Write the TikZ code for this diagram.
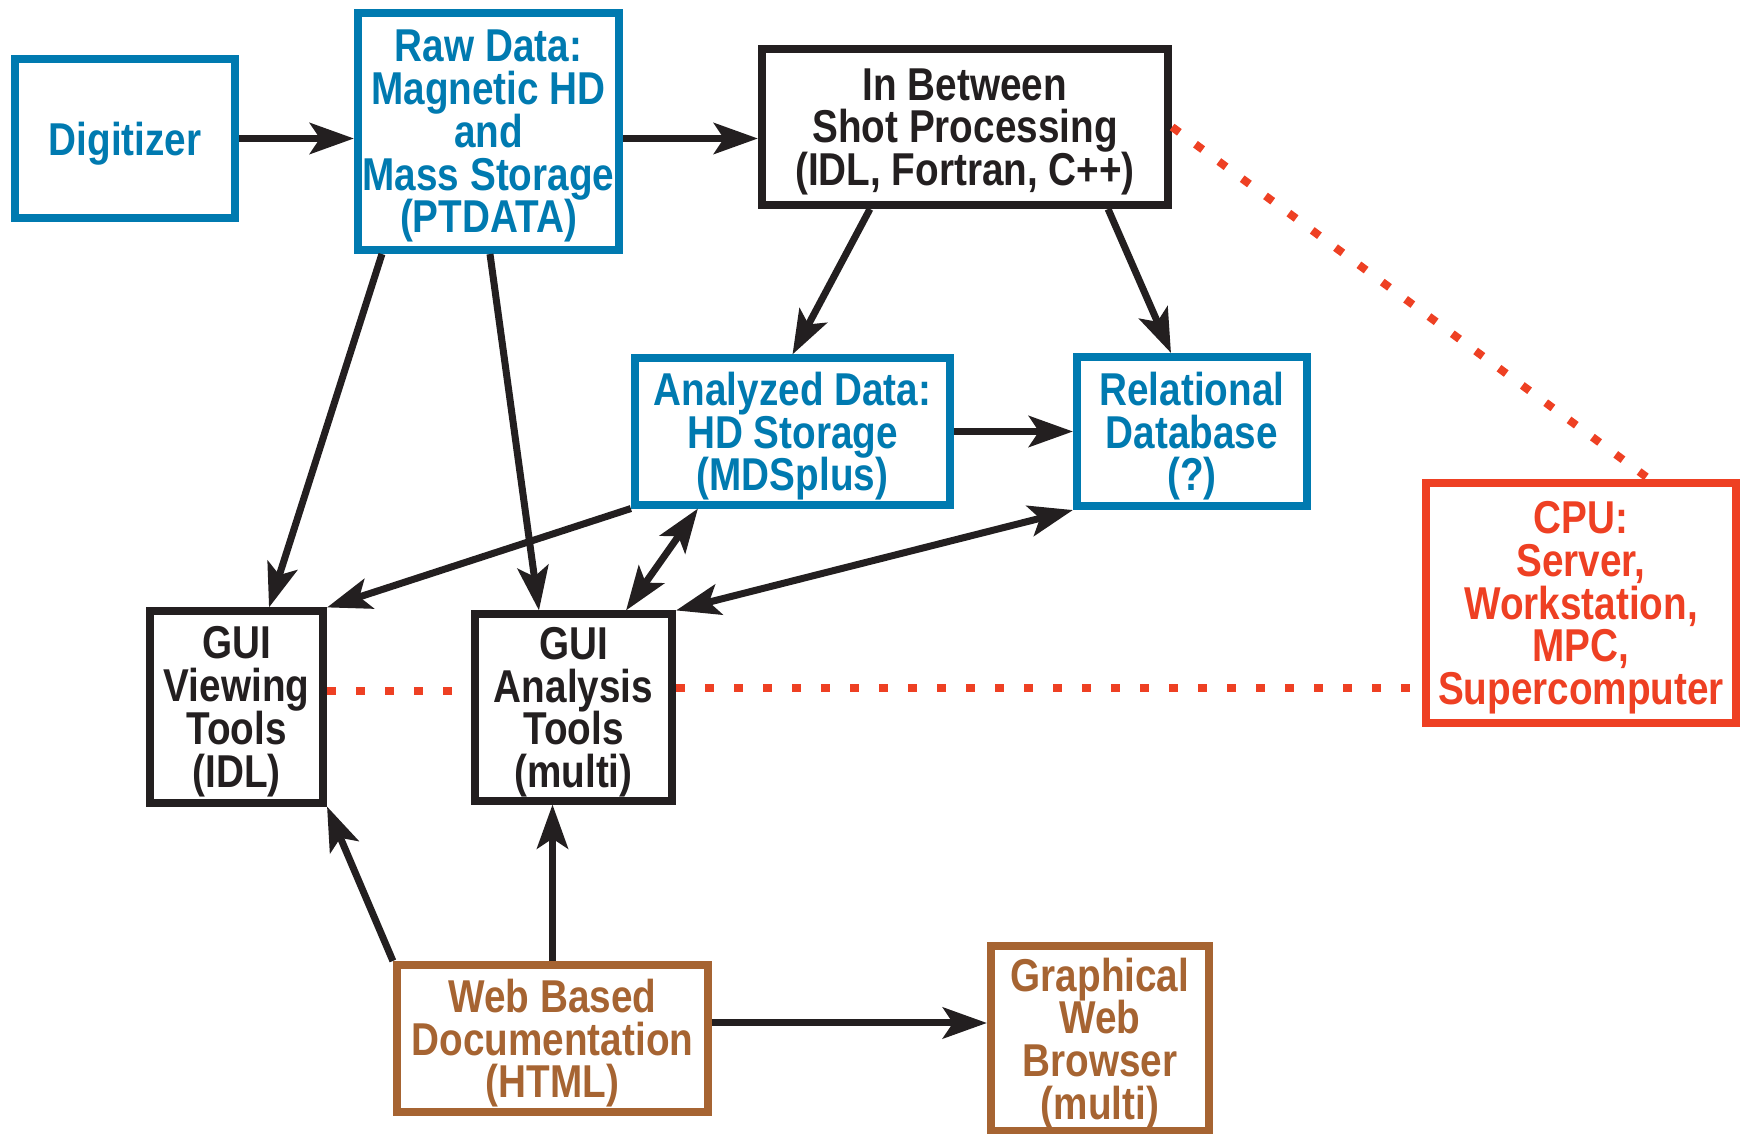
\documentclass[tikz,border=0pt]{standalone}
\usepackage{fontspec}
\setmainfont{Liberation Sans}[FakeStretch=0.84]
\usetikzlibrary{arrows.meta}
\definecolor{dblue}{RGB}{0,122,176}
\definecolor{dred}{RGB}{238,64,35}
\definecolor{dbrown}{RGB}{166,100,50}
\definecolor{dblack}{RGB}{35,31,32}
\begin{document}
\begin{tikzpicture}[x = 0.01cm, y = -0.01cm,
		box/.style = {draw, line width = 0.08cm, inner sep = 0pt, align = center, text depth = -0.4pt,
			font = {\fontsize{13.1}{12.15}\selectfont\bfseries\setlength{\lineskiplimit}{-5pt}}},
		bluebox/.style = {box, draw = dblue, text = dblue},
		blackbox/.style = {box, draw = dblack, text = dblack},
		redbox/.style = {box, draw = dred, text = dred},
		brownbox/.style = {box, draw = dbrown, text = dbrown},
		arr/.style = {line width = 0.07cm, draw = dblack, -{Stealth[length = 0.44cm, width = 0.31cm, inset = 0.1cm]}},
		darr/.style = {arr, {Stealth[length = 0.44cm, width = 0.31cm, inset = 0.1cm]}-{Stealth[length = 0.44cm, width = 0.31cm, inset = 0.1cm]}},
		link/.style = {draw = dred, line width = 0.08cm, dash pattern = on 0.09cm off 0.2cm}]
	\useasboundingbox (0, 0) rectangle (1744, 1134);
	% boxes
	\node[bluebox, text depth = -1.6pt, minimum width = 2.20cm, minimum height = 1.59cm] (digitizer) at (125, 138.5) {Digitizer};
	\node[bluebox, minimum width = 2.61cm, minimum height = 2.37cm] (raw) at (488.5, 131.5) {Raw Data:\\Magnetic HD\\and\\Mass Storage\\(PTDATA)};
	\node[blackbox, minimum width = 4.06cm, minimum height = 1.56cm] (between) at (965, 127) {In Between\\Shot Processing\\(IDL, Fortran, C++)};
	\node[bluebox, minimum width = 3.15cm, minimum height = 1.46cm] (analyzed) at (792.5, 431.5) {Analyzed Data:\\HD Storage\\(MDSplus)};
	\node[bluebox, minimum width = 2.30cm, minimum height = 1.49cm] (relational) at (1192, 431.5) {Relational\\Database\\(?)};
	\node[redbox, text depth = -3.4pt, minimum width = 3.10cm, minimum height = 2.40cm] (cpu) at (1581, 603) {CPU:\\Server,\\Workstation,\\MPC,\\Supercomputer};
	\node[blackbox, minimum width = 1.73cm, minimum height = 1.91cm] (viewing) at (236.5, 707) {GUI\\Viewing\\Tools\\(IDL)};
	\node[blackbox, minimum width = 1.97cm, minimum height = 1.86cm] (analysis) at (573.5, 707.5) {GUI\\Analysis\\Tools\\(multi)};
	\node[brownbox, minimum width = 3.11cm, minimum height = 1.47cm] (web) at (552.5, 1038.5) {Web Based\\Documentation\\(HTML)};
	\node[brownbox, text depth = -2.2pt, minimum width = 2.18cm, minimum height = 1.85cm] (browser) at (1100, 1038.5) {Graphical\\Web\\Browser\\(multi)};
	% data flow
	\draw[arr] (digitizer.east) -- (digitizer.east -| raw.west);
	\draw[arr] ([yshift = -0.07cm]raw.east) -- ([yshift = -0.07cm]raw.east -| between.west);
	\draw[arr] ([xshift = -0.95cm]between.south) -- (analyzed.north);
	\draw[arr] ([xshift = 1.43cm]between.south) -- ([xshift = -0.21cm]relational.north);
	\draw[arr] (analyzed.east) -- (analyzed.east -| relational.west);
	\draw[arr] ([xshift = 0.28cm]raw.south west) -- ([xshift = 1.23cm]viewing.north west);
	\draw[arr] ([xshift = 1.36cm]raw.south west) -- ([xshift = 0.68cm]analysis.north west);
	\draw[arr] (analyzed.south west) -- (viewing.north east);
	\draw[darr] ([xshift = 0.67cm]analyzed.south west) -- ([xshift = 1.55cm]analysis.north west);
	\draw[darr] (relational.south west) -- (analysis.north east);
	% documentation
	\draw[arr] (web.north west) -- (viewing.south east);
	\draw[arr] (web.north) -- (web.north |- analysis.south);
	\draw[arr] ([yshift = 0.155cm]web.east) -- ([yshift = 0.155cm]web.east -| browser.west);
	% cpu links
	\draw[link] ([yshift = 0.16cm]viewing.east) -- ([yshift = 0.16cm]viewing.east -| analysis.west);
	\draw[link] ([yshift = 0.19cm]analysis.east) -- ([yshift = 0.19cm]analysis.east -| cpu.west);
	\draw[link] (between.east) -- ([xshift = 0.68cm]cpu.north);
\end{tikzpicture}
\end{document}
